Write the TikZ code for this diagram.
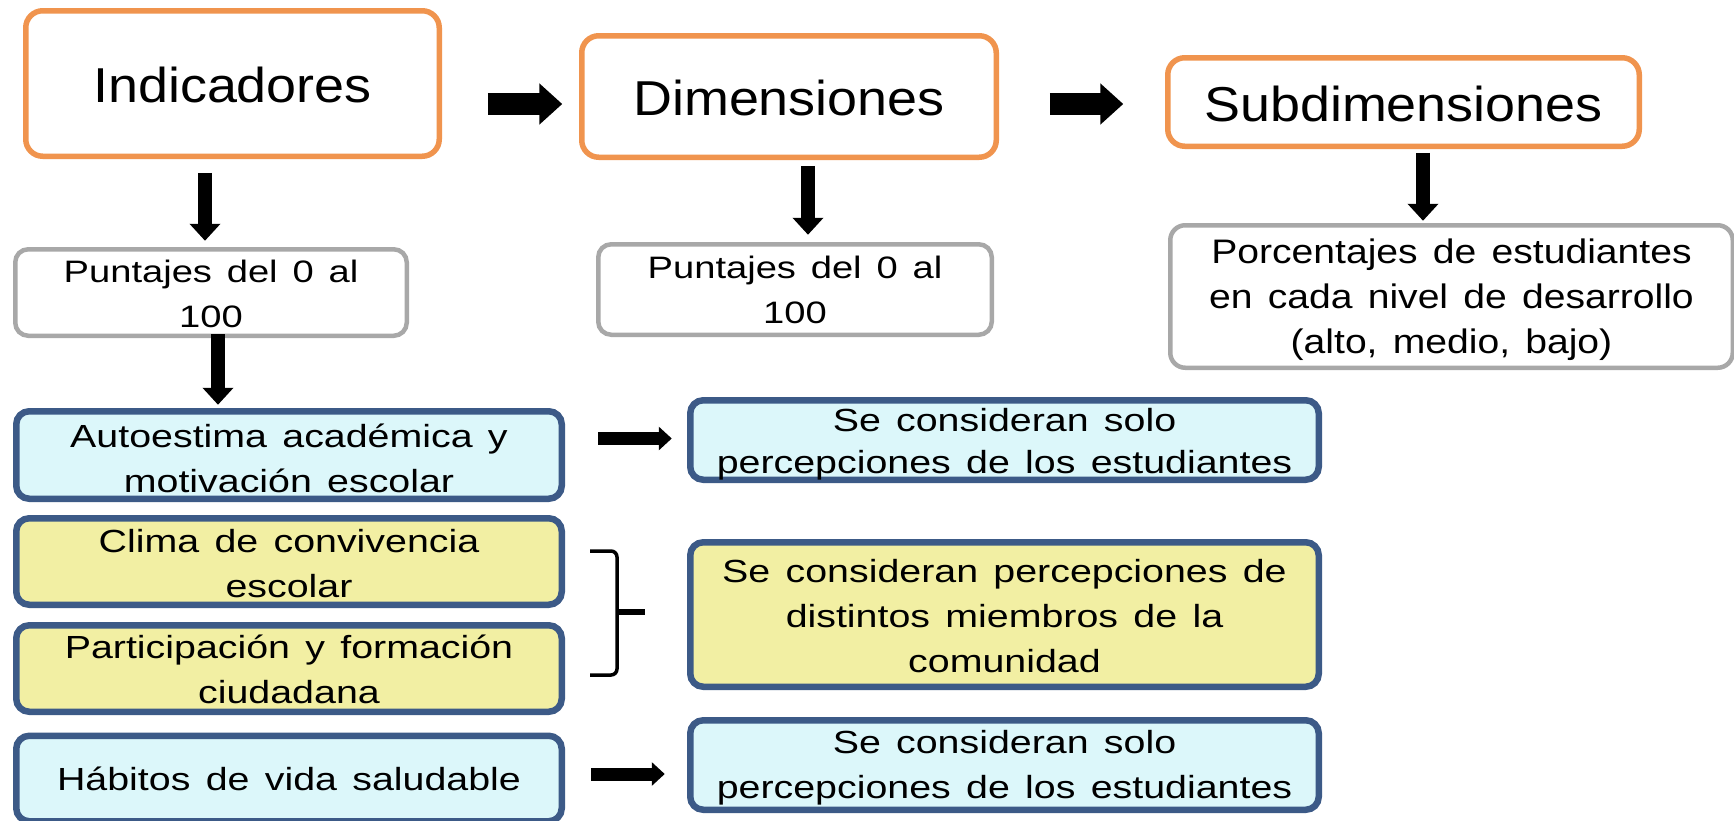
\documentclass[tikz,border=0pt]{standalone}
\usepackage{fontspec}
\setmainfont{Liberation Sans}
\newfontfamily\fTitle[FakeStretch=1.1]{Liberation Sans}
\newfontfamily\fPct[FakeStretch=1.15,WordSpace=1.4]{Liberation Sans}
\newfontfamily\fSmall[FakeStretch=1.23,WordSpace=1.4]{Liberation Sans}
\usetikzlibrary{arrows.meta}
\definecolor{orangeB}{RGB}{240,148,78}
\definecolor{grayB}{RGB}{168,168,168}
\definecolor{blueB}{RGB}{60,90,135}
\definecolor{cyanF}{RGB}{220,247,250}
\definecolor{yellowF}{RGB}{242,239,163}
\tikzset{
  titlebox/.style={draw=orangeB, line width=5.5pt, rounded corners=17pt, fill=white, align=center, inner sep=0pt, font=\fTitle\fontsize{49}{56}\selectfont, text height=37pt, text depth=0pt},
  scorebox/.style={draw=grayB, line width=4.5pt, rounded corners=13pt, fill=white, align=center, inner sep=0pt, font=\fSmall\fontsize{31}{45}\selectfont, text depth=0pt},
  pctbox/.style={draw=grayB, line width=4.5pt, rounded corners=15pt, fill=white, align=center, inner sep=0pt, font=\fPct\fontsize{34}{45}\selectfont, text depth=0pt},
  cyanbox/.style={draw=blueB, line width=6.5pt, rounded corners=13pt, fill=cyanF, align=center, inner sep=0pt, font=\fSmall\fontsize{32}{45}\selectfont, text depth=0pt},
  yellowbox/.style={draw=blueB, line width=6.5pt, rounded corners=13pt, fill=yellowF, align=center, inner sep=0pt, font=\fSmall\fontsize{32}{45}\selectfont, text depth=0pt},
  harrow/.style={line width=22pt, -{Triangle[width=40pt,length=23pt]}},
  varrow/.style={line width=14pt, -{Triangle[width=30pt,length=17pt]}},
  sarrow/.style={line width=13pt, -{Triangle[width=23pt,length=13pt]}},
}
\begin{document}
\begin{tikzpicture}[x=1pt,y=-1pt]
\useasboundingbox[fill=white] (0,0) rectangle (1734,820);
% top row
\node[titlebox, minimum width=413.5pt, minimum height=145.5pt] (ind) at (232.5,83.5) {Indicadores};
\node[titlebox, minimum width=414.5pt, minimum height=121.5pt] (dim) at (789,96.5) {Dimensiones};
\node[titlebox, minimum width=471.5pt, minimum height=88.5pt, text height=38pt] (sub) at (1403.5,102) {Subdimensiones};
% second row
\node[scorebox, minimum width=391.5pt, minimum height=86.5pt, text height=69pt] (p1) at (211,292.5) {Puntajes del 0 al\\100};
\node[scorebox, minimum width=393.5pt, minimum height=90.5pt, text height=67pt] (p2) at (795,289.5) {Puntajes del 0 al\\100};
\node[pctbox, minimum width=562.5pt, minimum height=142.5pt, text height=113pt] (pc) at (1451.5,296.5) {Porcentajes de estudiantes\\en cada nivel de desarrollo\\(alto, medio, bajo)};
% left column
\node[cyanbox, minimum width=545.5pt, minimum height=87.5pt, text height=74pt] (auto) at (289,455) {Autoestima académica y\\motivación escolar};
\node[yellowbox, minimum width=545.5pt, minimum height=86.5pt, text height=71pt] (clima) at (289,561.5) {Clima de convivencia\\escolar};
\node[yellowbox, minimum width=545.5pt, minimum height=86.5pt, text height=69pt] (part) at (289,668.5) {Participación y formación\\ciudadana};
\node[cyanbox, minimum width=545.5pt, minimum height=85.5pt, text height=23pt] (hab) at (289,778.5) {Hábitos de vida saludable};
% right column
\node[cyanbox, minimum width=628.5pt, minimum height=79.5pt, text height=66pt, font=\fSmall\fontsize{32}{42}\selectfont] (s1) at (1004.5,440) {Se consideran solo\\percepciones de los estudiantes};
\node[yellowbox, minimum width=628.5pt, minimum height=144.5pt, text height=115pt] (s2) at (1004.5,614.5) {Se consideran percepciones de\\distintos miembros de la\\comunidad};
\node[cyanbox, minimum width=628.5pt, minimum height=89.5pt, text height=66pt] (s3) at (1004.5,765) {Se consideran solo\\percepciones de los estudiantes};
% arrows
\draw[harrow] ([shift={(45.75,20.5)}]ind.east) -- ([shift={(-16.75,7.5)}]dim.west);
\draw[harrow] ([shift={(50.75,7.5)}]dim.east) -- ([shift={(-41.75,2)}]sub.west);
\draw[varrow] ([shift={(-27.5,13.75)}]ind.south) -- ([shift={(-6,-6.25)}]p1.north);
\draw[varrow] ([shift={(7,-3.75)}]p1.south) -- ([shift={(-71,-3.25)}]auto.north);
\draw[varrow] ([shift={(19,5.75)}]dim.south) -- ([shift={(13,-7.25)}]p2.north);
\draw[varrow] ([shift={(19.5,3.75)}]sub.south) -- ([shift={(-28.5,-2.25)}]pc.north);
\draw[sarrow] ([shift={(33.25,-16.5)}]auto.east) -- ([shift={(-15.25,-1.5)}]s1.west);
\draw[sarrow] ([shift={(26.25,-4.5)}]hab.east) -- ([shift={(-22.25,9)}]s3.west);
% bracket
\coordinate (brt) at (590,551);
\coordinate (brb) at (590,675);
\coordinate (brm) at (617,612);
\draw[line width=3.5pt, rounded corners=6pt] (brt) -- (617,551) -- (617,675) -- (brb);
\draw[line width=6pt] (brm) -- (645,612);
\end{tikzpicture}
\end{document}
